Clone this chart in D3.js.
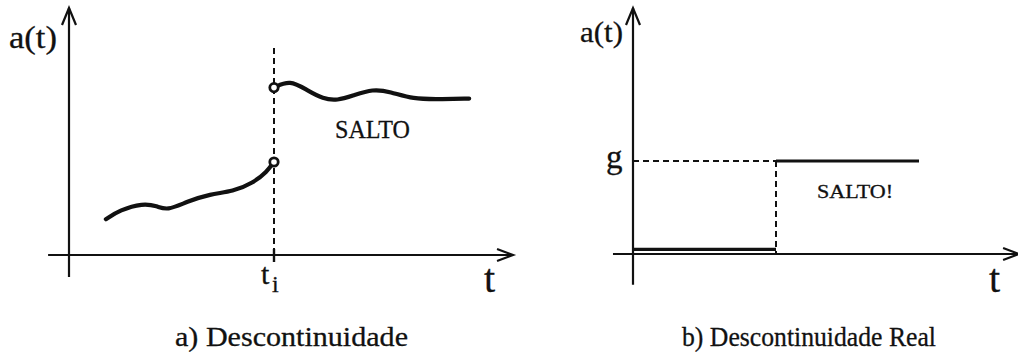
<!DOCTYPE html>
<html>
<head>
<meta charset="utf-8">
<script src="https://cdn.jsdelivr.net/npm/d3@7"></script>
<style>
  body { margin: 0; background: #fff; }
  text { font-family: "Liberation Serif", "Times New Roman", serif; fill: #111; stroke: #111; stroke-width: 0.3px; }
</style>
</head>
<body>
<svg id="drawing_region"></svg>
<script>
// panel a) curve before and after the jump, [t, a]
const lowerCurve = [
    [0.90, 1.79], [1.24, 2.25], [1.80, 2.59], [2.15, 2.45], [2.39, 2.22],
    [2.88, 2.67], [3.44, 3.05], [4.00, 3.17], [4.49, 3.60], [4.83, 4.17], [5.00, 4.65]
];
const upperCurve = [
    [5.00, 8.37], [5.39, 8.75], [5.80, 8.25], [6.20, 7.80], [6.54, 7.72],
    [6.93, 7.97], [7.41, 8.30], [7.83, 8.17], [8.39, 7.79], [9.05, 7.79], [9.76, 7.82]
];
const jumpA = 5;            // t_i
const openPoints = [[5.00, 4.65], [5.00, 8.37]];

// panel b) step, [t, a]
const stepLow = [[0, 0.05], [5, 0.05]];
const stepHigh = [[5, 1], [10, 1]];
const jumpB = 5;
const levelG = 1;

const labelsA = { y: "a(t)", x: "t", jump: "SALTO", caption: "a) Descontinuidade" };
const labelsB = { y: "a(t)", x: "t", level: "g", jump: "SALTO!", caption: "b) Descontinuidade Real" };

const ink = '#111';

const svg = d3.select('#drawing_region')
    .attr('width', 1018)
    .attr('height', 354);

function arrowUp(g, x, y) {
    g.append('path')
        .attr('d', `M${x - 7},${y + 17} L${x},${y} L${x + 7},${y + 17}`)
        .attr('fill', 'none').attr('stroke', ink).attr('stroke-width', 2.2);
}
function arrowRight(g, x, y) {
    g.append('path')
        .attr('d', `M${x - 16},${y - 6} L${x},${y} L${x - 16},${y + 6}`)
        .attr('fill', 'none').attr('stroke', ink).attr('stroke-width', 2.2);
}

// ---------------- panel a
const xa = d3.scaleLinear().domain([0, 10]).range([69, 479]);
const ya = d3.scaleLinear().domain([0, 10]).range([255, 55]);
const ga = svg.append('g');

// axes
ga.append('line')
    .attr('x1', xa(0)).attr('x2', xa(0))
    .attr('y1', ya(-1.1)).attr('y2', ya(12.35))
    .attr('stroke', ink).attr('stroke-width', 2.2);
arrowUp(ga, xa(0), ya(12.35));
ga.append('line')
    .attr('x1', xa(-0.51)).attr('x2', xa(10.83))
    .attr('y1', ya(0)).attr('y2', ya(0))
    .attr('stroke', ink).attr('stroke-width', 2.2);
arrowRight(ga, xa(10.83), ya(0));

// t_i dashed line + tick
ga.append('line')
    .attr('x1', xa(jumpA)).attr('x2', xa(jumpA))
    .attr('y1', ya(10.35)).attr('y2', ya(0))
    .attr('stroke', ink).attr('stroke-width', 2)
    .attr('stroke-dasharray', '6,4');
ga.append('line')
    .attr('x1', xa(jumpA)).attr('x2', xa(jumpA))
    .attr('y1', ya(0.3)).attr('y2', ya(-0.35))
    .attr('stroke', ink).attr('stroke-width', 2.4);

const lineA = d3.line()
    .x(d => xa(d[0]))
    .y(d => ya(d[1]))
    .curve(d3.curveBasis);

[lowerCurve, upperCurve].forEach(c => {
    ga.append('path')
        .attr('d', lineA(c))
        .attr('fill', 'none')
        .attr('stroke', ink)
        .attr('stroke-width', 4.2)
        .attr('stroke-linecap', 'round');
});

ga.selectAll('circle')
    .data(openPoints)
    .enter()
    .append('circle')
    .attr('cx', d => xa(d[0]))
    .attr('cy', d => ya(d[1]))
    .attr('r', 4.2)
    .attr('fill', '#fff')
    .attr('stroke', ink)
    .attr('stroke-width', 2.8);

ga.append('text').attr('x', 9).attr('y', 48).attr('font-size', 32)
    .attr('textLength', 48).attr('lengthAdjust', 'spacingAndGlyphs').text(labelsA.y);
ga.append('text').attr('x', 484).attr('y', 292).attr('font-size', 40).text(labelsA.x);
const ti = ga.append('text').attr('x', 261).attr('y', 284).attr('font-size', 30);
ti.append('tspan').text('t');
ti.append('tspan').attr('x', 272).attr('y', 292).attr('font-size', 24).text('i');
ga.append('text').attr('x', 335).attr('y', 138).attr('font-size', 26)
    .attr('textLength', 75).attr('lengthAdjust', 'spacingAndGlyphs').text(labelsA.jump);
ga.append('text').attr('x', 175).attr('y', 346).attr('font-size', 28)
    .attr('textLength', 233).attr('lengthAdjust', 'spacingAndGlyphs').text(labelsA.caption);

// ---------------- panel b
const xb = d3.scaleLinear().domain([0, 10]).range([633, 919]);
const yb = d3.scaleLinear().domain([0, 1]).range([254, 161]);
const gb = svg.append('g');

gb.append('line')
    .attr('x1', xb(0)).attr('x2', xb(0))
    .attr('y1', yb(-0.33)).attr('y2', yb(2.645))
    .attr('stroke', ink).attr('stroke-width', 2.2);
arrowUp(gb, xb(0), yb(2.645));
gb.append('line')
    .attr('x1', xb(-0.7)).attr('x2', xb(13.5))
    .attr('y1', yb(0)).attr('y2', yb(0))
    .attr('stroke', ink).attr('stroke-width', 2.2);
arrowRight(gb, xb(13.5), yb(0));

// dashed guides
gb.append('line')
    .attr('x1', xb(0)).attr('x2', xb(jumpB))
    .attr('y1', yb(levelG)).attr('y2', yb(levelG))
    .attr('stroke', ink).attr('stroke-width', 2).attr('stroke-dasharray', '6,4');
gb.append('line')
    .attr('x1', xb(jumpB)).attr('x2', xb(jumpB))
    .attr('y1', yb(levelG)).attr('y2', yb(0))
    .attr('stroke', ink).attr('stroke-width', 2).attr('stroke-dasharray', '6,4');

const lineB = d3.line().x(d => xb(d[0])).y(d => yb(d[1]));
[stepLow, stepHigh].forEach(s => {
    gb.append('path')
        .attr('d', lineB(s))
        .attr('fill', 'none')
        .attr('stroke', ink)
        .attr('stroke-width', 3.2);
});

gb.append('text').attr('x', 580).attr('y', 42).attr('font-size', 30)
    .attr('textLength', 43).attr('lengthAdjust', 'spacingAndGlyphs').text(labelsB.y);
gb.append('text').attr('x', 606).attr('y', 168).attr('font-size', 33).text(labelsB.level);
gb.append('text').attr('x', 989).attr('y', 292).attr('font-size', 40).text(labelsB.x);
gb.append('text').attr('x', 817).attr('y', 198).attr('font-size', 19)
    .attr('textLength', 76).attr('lengthAdjust', 'spacingAndGlyphs').text(labelsB.jump);
gb.append('text').attr('x', 682).attr('y', 346).attr('font-size', 27)
    .attr('textLength', 254).attr('lengthAdjust', 'spacingAndGlyphs').text(labelsB.caption);
</script>
</body>
</html>
